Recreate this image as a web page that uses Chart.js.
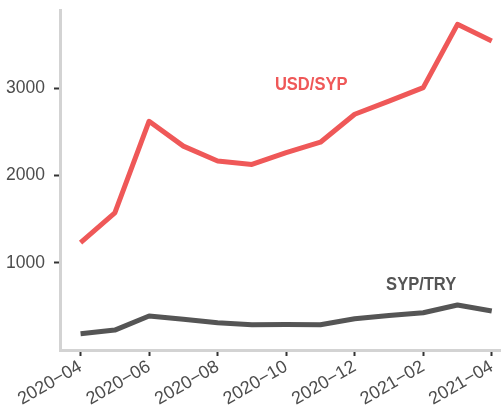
<!DOCTYPE html>
<html>
<head>
<meta charset="utf-8">
<script src="https://cdn.jsdelivr.net/npm/chart.js@4"></script>
<style>
  html, body { margin: 0; padding: 0; background: #ffffff; overflow: hidden; }
  #wrap { width: 501px; height: 417px; position: relative; }
</style>
</head>
<body>
<div id="wrap"><canvas id="c" width="501" height="417"></canvas></div>
<script>
// ---- data ----
const months = ["2020-04","2020-05","2020-06","2020-07","2020-08","2020-09","2020-10",
                "2020-11","2020-12","2021-01","2021-02","2021-03","2021-04"];
const usdSyp = [1230, 1570, 2620, 2335, 2165, 2125, 2260, 2380, 2700, 2850, 3005, 3730, 3540];
const sypTry = [187, 228, 389, 351, 312, 290, 293, 290, 358, 396, 427, 515, 446];
const xTickMonths = ["2020-04","2020-06","2020-08","2020-10","2020-12","2021-02","2021-04"];
const xTickLabels = ["2020\u221204","2020\u221206","2020\u221208","2020\u221210","2020\u221212","2021\u221202","2021\u221204"];
const yTicks = [1000, 2000, 3000];
const yTickLabels = ["1000", "2000", "3000"];
const seriesNames = ["USD/SYP", "SYP/TRY"];
// direct labels placed in data units (month index, value)
const labelMonthIdx = [6.73, 9.94];
const labelValue = [3042, 746];

const colors = ["#EF5858", "#555555"];

function toPoints(vals) { return vals.map((v, i) => ({ x: i, y: v })); }

const directLabels = {
  id: 'directLabels',
  afterDatasetsDraw(chart) {
    const ctx = chart.ctx, xs = chart.scales.x, ys = chart.scales.y;
    ctx.save();
    ctx.font = 'bold 19px "Liberation Sans", Arial, sans-serif';
    ctx.textAlign = 'center';
    ctx.textBaseline = 'middle';
    seriesNames.forEach((name, i) => {
      const px = xs.getPixelForValue(labelMonthIdx[i]);
      const py = ys.getPixelForValue(labelValue[i]);
      ctx.save();
      ctx.translate(px, py);
      ctx.scale(0.87, 1);
      ctx.fillStyle = colors[i];
      ctx.fillText(name, 0, 0);
      ctx.restore();
    });
    ctx.restore();
  }
};

new Chart(document.getElementById('c'), {
  type: 'line',
  data: {
    datasets: [
      { label: seriesNames[0], data: toPoints(usdSyp), borderColor: colors[0], borderWidth: 5,
        pointRadius: 0, tension: 0, borderJoinStyle: 'round', borderCapStyle: 'butt', fill: false },
      { label: seriesNames[1], data: toPoints(sypTry), borderColor: colors[1], borderWidth: 5,
        pointRadius: 0, tension: 0, borderJoinStyle: 'round', borderCapStyle: 'butt', fill: false }
    ]
  },
  options: {
    responsive: false,
    animation: false,
    devicePixelRatio: 1,
    layout: { padding: { top: 10, right: 0, left: 0, bottom: 0 } },
    plugins: { legend: { display: false }, tooltip: { enabled: false } },
    scales: {
      x: {
        type: 'linear',
        min: -0.6,
        max: 12.27,
        afterBuildTicks(scale) {
          scale.ticks = xTickMonths.map(m => ({ value: months.indexOf(m) }));
        },
        afterFit(scale) { scale.height = 67; scale.paddingLeft = 0; scale.paddingRight = 0; },
        ticks: {
          autoSkip: false,
          minRotation: 30,
          maxRotation: 30,
          padding: 0,
          color: '#4D4D4D',
          font: { family: '"Liberation Sans", Arial, sans-serif', size: 18 },
          callback(value) {
            const k = xTickMonths.indexOf(months[value]);
            return k >= 0 ? xTickLabels[k] : '';
          }
        },
        grid: { drawOnChartArea: false, drawTicks: true, tickLength: 6, tickColor: '#333333', tickWidth: 2 },
        border: { display: true, color: '#D3D3D3', width: 3 }
      },
      y: {
        type: 'linear',
        min: 0,
        max: 3894,
        afterBuildTicks(scale) {
          scale.ticks = yTicks.map(v => ({ value: v }));
        },
        afterFit(scale) { scale.width = 60; scale.paddingTop = 0; scale.paddingBottom = 0; },
        ticks: {
          padding: 9,
          color: '#4D4D4D',
          font: { family: '"Liberation Sans", Arial, sans-serif', size: 17.5 },
          callback(value) {
            const k = yTicks.indexOf(value);
            return k >= 0 ? yTickLabels[k] : '';
          }
        },
        grid: { drawOnChartArea: false, drawTicks: true, tickLength: 6, tickColor: '#333333', tickWidth: 2 },
        border: { display: true, color: '#D3D3D3', width: 3 }
      }
    }
  },
  plugins: [directLabels]
});
</script>
</body>
</html>
